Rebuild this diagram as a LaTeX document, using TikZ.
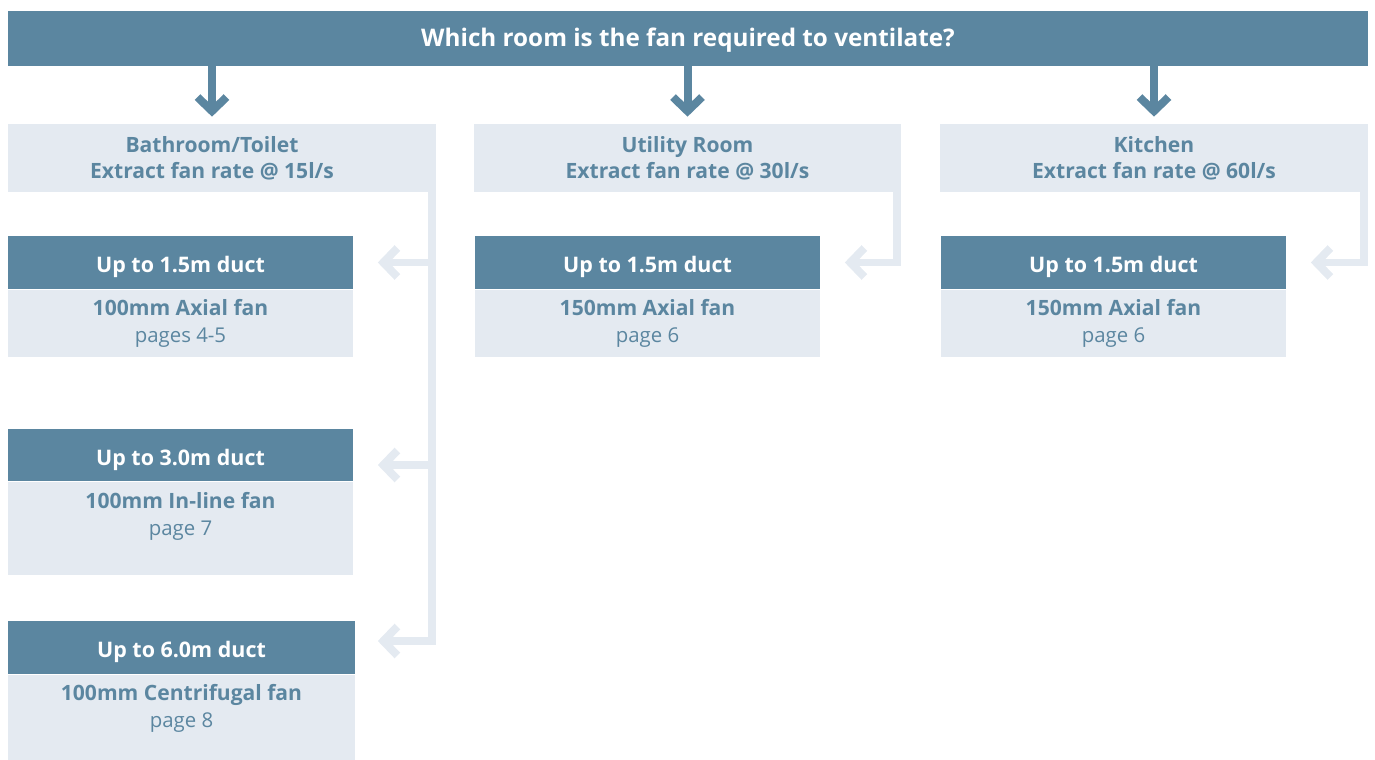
\documentclass[tikz,border=0pt]{standalone}
\usepackage{fontspec}
\setmainfont{Open Sans}
\usetikzlibrary{arrows.meta, positioning, calc}
\definecolor{fanblue}{HTML}{5B86A0}
\definecolor{fanlight}{HTML}{E4EAF1}

\begin{document}
\begin{tikzpicture}[
      x=0.02cm, y=-0.02cm,
      question/.style={fill=fanblue, text=white, font=\fontsize{13.8}{17}\selectfont\bfseries, minimum width=27.2cm, minimum height=1.1cm, inner sep=0pt, text height=0.31cm, text depth=0pt},
      room/.style={fill=fanlight, minimum width=8.56cm, minimum height=1.36cm, inner sep=0pt},
      roomtext/.style={text=fanblue, align=center, font=\fontsize{12}{14.8}\selectfont\bfseries, inner sep=0pt},
      duct/.style={fill=fanblue, text=white, font=\fontsize{12.2}{15}\selectfont\bfseries, minimum width=6.92cm, minimum height=1.06cm, inner sep=0pt, text height=0.41cm, text depth=0pt},
      fanbox/.style={fill=fanlight, minimum width=6.92cm, inner sep=0pt, anchor=north},
      fantext/.style={text=fanblue, align=center, font=\fontsize{11.6}{15.3}\selectfont, inner sep=0pt, anchor=north, yshift=-0.2cm},
      down/.style={draw=fanblue, line width=0.16cm, -{Straight Barb[length=0.28cm, width=0.58cm]}, shorten >=0.14cm},
      feed/.style={draw=fanlight, line width=0.16cm, line join=miter, -{Straight Barb[length=0.28cm, width=0.58cm]}}
    ]
      \useasboundingbox (0,0) rectangle (1375,760);

      % Question bar
      \node[question] (question) at (688,38.5) {Which room is the fan required to ventilate?};

      % Rooms
      \node[room] (bath) at (222,158) {};
      \node[roomtext] (bathlabel) at (212,158) {Bathroom/Toilet\\Extract fan rate @ 15l/s};
      \node[room, roomtext, minimum width=8.54cm, minimum height=1.36cm, fill=fanlight] (utility) at (687.5,158) {Utility Room\\Extract fan rate @ 30l/s};
      \node[room, roomtext, minimum width=8.56cm, minimum height=1.36cm, fill=fanlight] (kitchen) at (1154,158) {Kitchen\\Extract fan rate @ 60l/s};

      % Bathroom fans
      \node[duct] (bathduct1) at (180.5,262.5) {Up to 1.5m duct};
      \node[fanbox, minimum height=1.34cm] (bathfan1) at (bathduct1.south) {};
      \node[fantext] at (bathfan1.north) {{\fontsize{12}{15.3}\selectfont\bfseries 100mm Axial fan}\\pages 4-5};

      \node[duct] (bathduct2) at (180.5,455) {Up to 3.0m duct};
      \node[fanbox, minimum height=1.86cm] (bathfan2) at (bathduct2.south) {};
      \node[fantext] at (bathfan2.north) {{\fontsize{12}{15.3}\selectfont\bfseries 100mm In-line fan}\\page 7};

      \node[duct, minimum width=6.96cm] (bathduct3) at (181.5,647.5) {Up to 6.0m duct};
      \node[fanbox, minimum width=6.96cm, minimum height=1.72cm] (bathfan3) at (bathduct3.south) {};
      \node[fantext] at (bathfan3.north) {{\fontsize{12}{15.3}\selectfont\bfseries 100mm Centrifugal fan}\\page 8};

      % Utility room and kitchen fans
      \node[duct] (utilduct) at (647.5,262.5) {Up to 1.5m duct};
      \node[fanbox, minimum height=1.34cm] (utilfan) at (utilduct.south) {};
      \node[fantext] at (utilfan.north) {{\fontsize{12}{15.3}\selectfont\bfseries 150mm Axial fan}\\page 6};

      \node[duct] (kitchduct) at (1113.5,262.5) {Up to 1.5m duct};
      \node[fanbox, minimum height=1.34cm] (kitchfan) at (kitchduct.south) {};
      \node[fantext] at (kitchfan.north) {{\fontsize{12}{15.3}\selectfont\bfseries 150mm Axial fan}\\page 6};

      % Arrows from the question
      \draw[down] (question.south -| bathlabel) -- (bathlabel |- bath.north);
      \draw[down] (question.south -| utility) -- (utility);
      \draw[down] (question.south -| kitchen) -- (kitchen);

      % Feeds to the fans
      \coordinate (trunk) at ($(bath.south east)+(-4,0)$);
      \draw[feed] (trunk) |- ($(bathduct3.east)+(22,-6.5)$);
      \draw[feed] (trunk |- bathduct1.east) -- ($(bathduct1.east)+(24,0)$);
      \draw[feed] ($(trunk |- bathduct2.east)+(0,10)$) -- ($(bathduct2.east)+(24,10)$);
      \draw[feed] ($(utility.south east)+(-4,0)$) |- ($(utilduct.east)+(24,0)$);
      \draw[feed] ($(kitchen.south east)+(-4,0)$) |- ($(kitchduct.east)+(24,0)$);
    \end{tikzpicture}
\end{document}
